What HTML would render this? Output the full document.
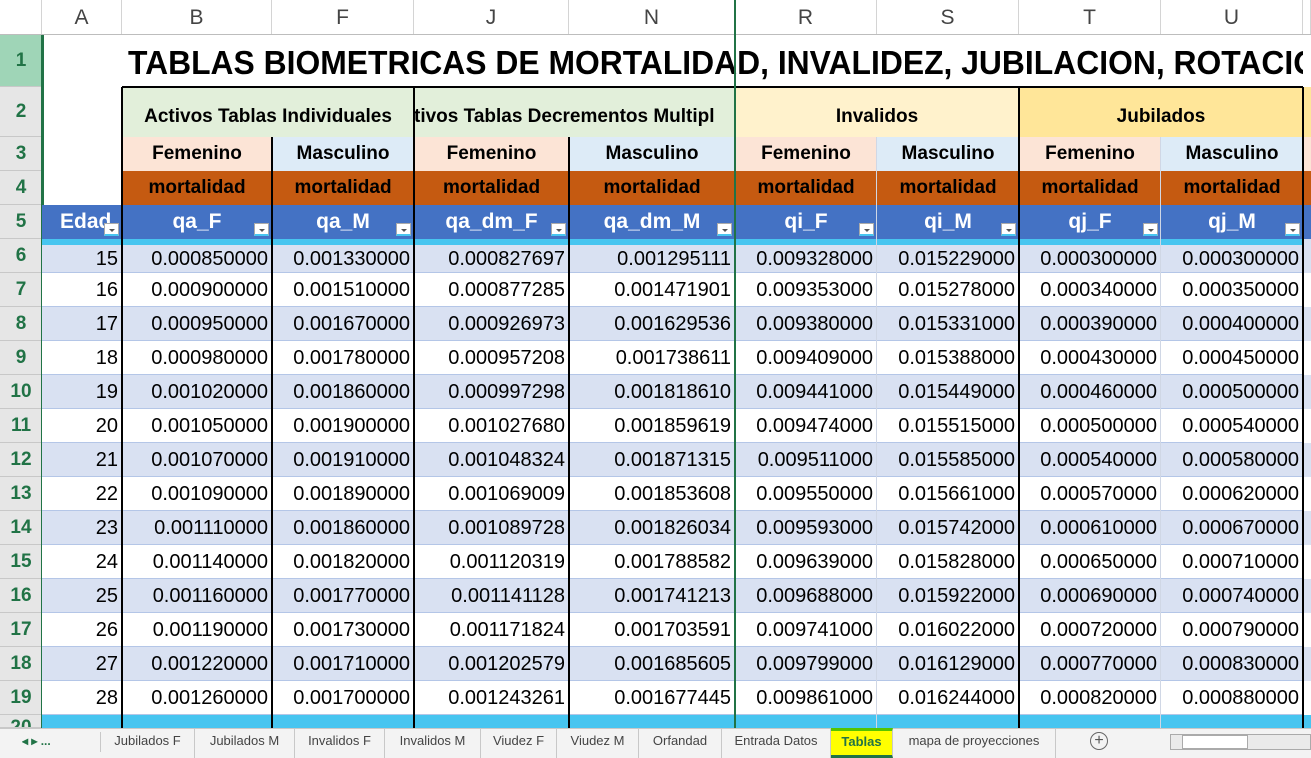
<!DOCTYPE html>
<html><head><meta charset="utf-8"><style>
*{box-sizing:border-box;margin:0;padding:0}
body{width:1311px;height:758px;overflow:hidden;background:#fff;font-family:"Liberation Sans",Arial,sans-serif;position:relative}
.a{position:absolute;overflow:hidden;white-space:nowrap}
.ch{color:#444;font-size:21px;text-align:center;line-height:35px;top:0;height:35px;border-right:1px solid #d4d4d4;background:#fff}
.rh{left:0;width:42px;background:#e6e6e6;color:#217346;font-weight:bold;font-size:19px;text-align:center;border-bottom:1px solid #c8c8c8}
.c{font-size:20px;line-height:34px;text-align:right;padding-right:4px;color:#000;border-bottom:1px solid #b4c6e7}
.h{font-weight:bold;text-align:center;font-size:19px;color:#000}
.tab{top:728px;height:30px;line-height:26px;font-size:13px;color:#444;text-align:center;border-right:1px solid #c8c8c8}
.dd{position:absolute;right:3px;bottom:3px;width:15px;height:13px;background:#fff;border:1px solid #aaa;border-bottom:2px solid #47c5f0}
.dd:after{content:"";position:absolute;left:4px;top:5px;border-left:3px solid transparent;border-right:3px solid transparent;border-top:3px solid #555}
</style></head><body>
<div id="sheet"></div>
<script>
var ages=[15,16,17,18,19,20,21,22,23,24,25,26,27,28];
var qaF=["0.000850000","0.000900000","0.000950000","0.000980000","0.001020000","0.001050000","0.001070000","0.001090000","0.001110000","0.001140000","0.001160000","0.001190000","0.001220000","0.001260000"];
var qaM=["0.001330000","0.001510000","0.001670000","0.001780000","0.001860000","0.001900000","0.001910000","0.001890000","0.001860000","0.001820000","0.001770000","0.001730000","0.001710000","0.001700000"];
var qadmF=["0.000827697","0.000877285","0.000926973","0.000957208","0.000997298","0.001027680","0.001048324","0.001069009","0.001089728","0.001120319","0.001141128","0.001171824","0.001202579","0.001243261"];
var qadmM=["0.001295111","0.001471901","0.001629536","0.001738611","0.001818610","0.001859619","0.001871315","0.001853608","0.001826034","0.001788582","0.001741213","0.001703591","0.001685605","0.001677445"];
var qiF=["0.009328000","0.009353000","0.009380000","0.009409000","0.009441000","0.009474000","0.009511000","0.009550000","0.009593000","0.009639000","0.009688000","0.009741000","0.009799000","0.009861000"];
var qiM=["0.015229000","0.015278000","0.015331000","0.015388000","0.015449000","0.015515000","0.015585000","0.015661000","0.015742000","0.015828000","0.015922000","0.016022000","0.016129000","0.016244000"];
var qjF=["0.000300000","0.000340000","0.000390000","0.000430000","0.000460000","0.000500000","0.000540000","0.000570000","0.000610000","0.000650000","0.000690000","0.000720000","0.000770000","0.000820000"];
var qjM=["0.000300000","0.000350000","0.000400000","0.000450000","0.000500000","0.000540000","0.000580000","0.000620000","0.000670000","0.000710000","0.000740000","0.000790000","0.000830000","0.000880000"];
var colLetters=["A","B","F","J","N","R","S","T","U"];
var colX=[42,122,272,414,569,735,877,1019,1161,1303];
var fieldNames=["Edad","qa_F","qa_M","qa_dm_F","qa_dm_M","qi_F","qi_M","qj_F","qj_M"];
var B=document.body;
function mk(cls,x,y,w,h,txt,st){var d=document.createElement('div');d.className='a '+cls;d.style.left=x+'px';d.style.top=y+'px';d.style.width=w+'px';d.style.height=h+'px';if(txt!=null)d.textContent=txt;if(st)d.style.cssText+=st;B.appendChild(d);return d;}
var cr=mk('',0,0,42,35,null,'background:#fff;border-right:1px solid #d4d4d4');


for(var i=0;i<colLetters.length;i++){var e=mk('ch',colX[i],0,colX[i+1]-colX[i],35,colLetters[i]);

}
mk('ch',1303,0,8,35,'');
mk('',0,34,1311,1,null,'background:#bdbdbd');
var rowTops=[35,87,137,171,205,239];
for(var r=0;r<14;r++)rowTops.push(273+r*34);
for(var r=0;r<rowTops.length-1;r++){var h=rowTops[r+1]-rowTops[r];var e=mk('rh',0,rowTops[r],42,h,String(r+1),'line-height:'+h+'px');
if(r==0)e.style.background='#9fd5b7';

}
var e20=mk('rh',0,715,42,13,'20','line-height:26px');


mk('',41,35,3,693,null,'background:#217346');
var t=document.createElementNS('http://www.w3.org/2000/svg','svg');t.setAttribute('width','1175');t.setAttribute('height','52');t.style.cssText='position:absolute;left:128px;top:35px';
t.innerHTML='<text x="0" y="39" font-family="Liberation Sans,Arial,sans-serif" font-weight="bold" font-size="33" textLength="1190" lengthAdjust="spacingAndGlyphs">TABLAS BIOMETRICAS DE MORTALIDAD, INVALIDEZ, JUBILACION, ROTACIO</text>';


B.appendChild(t);
var g=[[122,414,'#e2efda','Activos Tablas Individuales','center'],[414,735,'#e2efda','tivos Tablas Decrementos Multipl','left'],[735,1019,'#fff2cc','Invalidos','center'],[1019,1303,'#ffe699','Jubilados','center']];
g.forEach(function(q,i){var e=mk('h',q[0],87,q[1]-q[0],50,q[3],'background:'+q[2]+';line-height:60px;text-align:'+q[4]);

});
mk('',1303,87,8,50,null,'background:#ffe699');
for(var i=1;i<9;i++){var x=colX[i],w=colX[i+1]-x;var fem=(i%2==1);
var e=mk('h',x,137,w,34,fem?'Femenino':'Masculino','background:'+(fem?'#fce4d6':'#ddebf7')+';line-height:34px');


var m=mk('h',x,171,w,34,'mortalidad','background:#c55a11;line-height:34px');

}
mk('',1303,137,8,34,null,'background:#fce4d6');mk('',1303,171,8,34,null,'background:#c55a11');
for(var i=0;i<9;i++){var x=colX[i],w=colX[i+1]-x;
var f=mk('h',x,205,w,34,fieldNames[i],'background:#4472c4;color:#fff;font-size:21px;line-height:34px;'+(i==0?'text-align:left;padding-left:18px':''));
var d=document.createElement('div');d.className='dd';f.appendChild(d);



}
mk('',1303,205,8,34,null,'background:#4472c4');
var cols=[ages,qaF,qaM,qadmF,qadmM,qiF,qiM,qjF,qjM];
for(var r=0;r<14;r++){var y=239+r*34;var bg=(r%2==0)?'#d9e1f2':'#fff';
for(var i=0;i<9;i++){var x=colX[i],w=colX[i+1]-x;
var c=mk('c',x,y,w,34,String(cols[i][r]),'background:'+bg+(r==0?';border-top:6px solid #47c5f0;line-height:28px':''));

}
mk('',1303,y,8,34,null,'background:'+bg);}
mk('',42,715,1269,13,null,'background:#47c5f0');
[122,414,1019,1303].forEach(function(x){mk('',x-1,87,2,641,null,'background:#000');});
[272,569].forEach(function(x){mk('',x-1,137,2,591,null,'background:#000');});
mk('',122,86,1181,2,null,'background:#000');
mk('',876,137,1,591,null,'background:#d0d7e5');mk('',1160,137,1,591,null,'background:#d0d7e5');
mk('',734,0,2,728,null,'background:#217346');
var bar=mk('',0,728,1311,30,null,'background:#f3f3f3;border-top:1px solid #c8c8c8');


var nv=mk('',22,733,80,20,'◂    ▸    ...','font-size:12px;color:#217346;font-weight:bold;line-height:16px');


var tabNames=["Jubilados F","Jubilados M","Invalidos F","Invalidos M","Viudez F","Viudez M","Orfandad","Entrada Datos","Tablas","mapa de proyecciones"];
var tabX=[101,195,295,385,481,557,639,722,831,893];
var tw=[94,100,90,96,76,82,83,109,62,163];
for(var i=0;i<tabNames.length;i++){var e=mk('tab',tabX[i],728,tw[i],30,tabNames[i]);
if(tabNames[i]=='Tablas'){e.style.cssText+=';background:#ffff00;color:#217346;font-weight:bold;border-bottom:3px solid #217346;border-top:3px solid #55c400;line-height:22px';}

}
mk('',100,732,1,20,null,'background:#c8c8c8');
var pl=mk('',1090,732,18,18,'+','border:1px solid #666;border-radius:50%;text-align:center;line-height:15px;font-size:16px;color:#555');


var sb=mk('',1170,734,141,16,null,'border:1px solid #aaa;background:#eaeaea');


mk('',1182,735,66,14,null,'background:#fff;border:1px solid #aaa');
</script>
</body></html>
